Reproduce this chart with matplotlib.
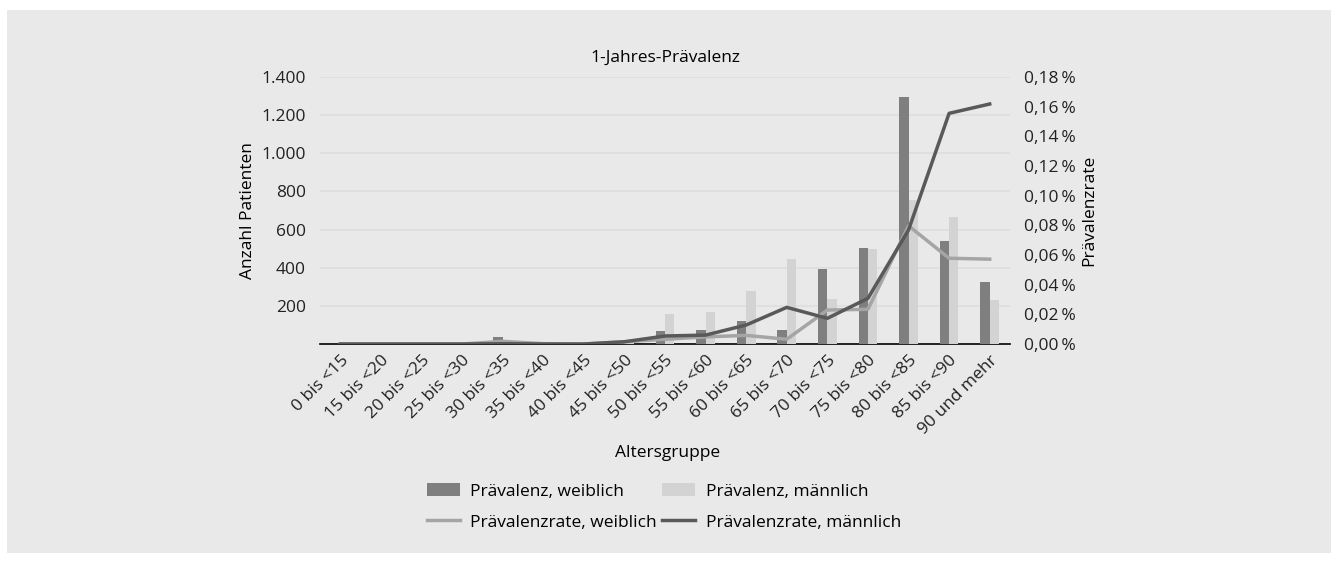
import numpy as np
import matplotlib
matplotlib.use("Agg")
import matplotlib.pyplot as plt
from matplotlib.patches import Rectangle, Patch
from matplotlib.lines import Line2D
from matplotlib.ticker import FuncFormatter

plt.rcParams['font.family'] = ['Open Sans', 'DejaVu Sans']
plt.rcParams['font.size'] = 12.5

# Daten
altersgruppen = ["0 bis <15", "15 bis <20", "20 bis <25", "25 bis <30", "30 bis <35",
                 "35 bis <40", "40 bis <45", "45 bis <50", "50 bis <55", "55 bis <60",
                 "60 bis <65", "65 bis <70", "70 bis <75", "75 bis <80", "80 bis <85",
                 "85 bis <90", "90 und mehr"]
praev_weiblich = [0, 0, 0, 0, 38, 2, 0, 15, 68, 72, 122, 73, 392, 502, 1295, 540, 327]
praev_maennlich = [0, 0, 0, 0, 6, 0, 0, 10, 159, 170, 280, 446, 238, 498, 755, 667, 231]
rate_weiblich = [0, 0, 0, 0, 0.0018, 0.0002, 0, 0.0015, 0.0032, 0.0048, 0.0058, 0.0032,
                 0.0229, 0.0234, 0.0797, 0.0578, 0.0572]
rate_maennlich = [0, 0, 0, 0, 0.0002, 0, 0, 0.0015, 0.0054, 0.0060, 0.0128, 0.0247,
                  0.0173, 0.0308, 0.0769, 0.1555, 0.1618]

bg = "#e9e9e9"
c_dark = "#7f7f80"
c_light = "#d3d3d4"
c_line_w = "#a5a5a5"
c_line_m = "#595959"
fs = 12.5

fig = plt.figure(figsize=(13.36, 5.61), dpi=100)
fig.patch.set_facecolor("white")
fig.patches.append(Rectangle((7/1336, 1-553/561), (1331-7)/1336, (553-10)/561,
                             transform=fig.transFigure, facecolor=bg, edgecolor="none", zorder=-10))

ax = fig.add_axes([320/1336, 1-344/561, 690/1336, 267/561])
ax.set_facecolor(bg)
ax2 = ax.twinx()

x = np.arange(len(altersgruppen))
w = 0.23
ax.bar(x - w/2, praev_weiblich, w, color=c_dark, zorder=3)
ax.bar(x + w/2, praev_maennlich, w, color=c_light, zorder=3)
ax.set_xlim(-0.5, len(altersgruppen) - 0.5)
ax.set_ylim(0, 1400)
ax.set_yticks(range(200, 1401, 200))
ax.yaxis.set_major_formatter(FuncFormatter(lambda v, p: f"{int(v):,}".replace(",", ".")))
ax.grid(axis="y", color="#dedede", linewidth=1.2, zorder=0)
ax.set_axisbelow(True)

ax2.plot(x, rate_weiblich, color=c_line_w, linewidth=2.5, zorder=4)
ax2.plot(x, rate_maennlich, color=c_line_m, linewidth=2.5, zorder=5)
ax2.set_ylim(0, 0.18)
ax2.set_yticks(np.arange(0, 0.181, 0.02))
ax2.yaxis.set_major_formatter(FuncFormatter(lambda v, p: f"{v:.2f}".replace(".", ",") + "\u2009%"))

for a in (ax, ax2):
    for s in ("top", "left", "right"):
        a.spines[s].set_visible(False)
    a.tick_params(axis="y", length=0, labelsize=fs, colors="#222222", pad=10)
ax.spines["bottom"].set_color("black")
ax.spines["bottom"].set_linewidth(1.2)
ax2.spines["bottom"].set_visible(False)

ax.set_xticks(x)
ax.set_xticklabels(altersgruppen, rotation=45, ha="right", rotation_mode="anchor", fontsize=fs)
ax.tick_params(axis="x", length=0, pad=6, colors="#222222")

ax.set_ylabel("Anzahl Patienten", fontsize=fs, labelpad=4)
ax2.set_ylabel("Prävalenzrate", fontsize=fs, labelpad=4)
ax.set_title("1-Jahres-Prävalenz", fontsize=fs, pad=11)
fig.text(0.5, 1-453/561, "Altersgruppe", ha="center", va="center", fontsize=fs)

handles = [Patch(facecolor=c_dark), Line2D([], [], color=c_line_w, linewidth=2.5),
           Patch(facecolor=c_light), Line2D([], [], color=c_line_m, linewidth=2.5)]
labels = ["Prävalenz, weiblich", "Prävalenzrate, weiblich",
          "Prävalenz, männlich", "Prävalenzrate, männlich"]
fig.legend(handles, labels, ncol=2, loc="center", bbox_to_anchor=(0.497, 1-507/561),
           frameon=False, fontsize=fs, handlelength=1.9, columnspacing=0.3,
           labelspacing=0.85, handletextpad=0.6)

fig.savefig("out.png", dpi=100, facecolor="white")
